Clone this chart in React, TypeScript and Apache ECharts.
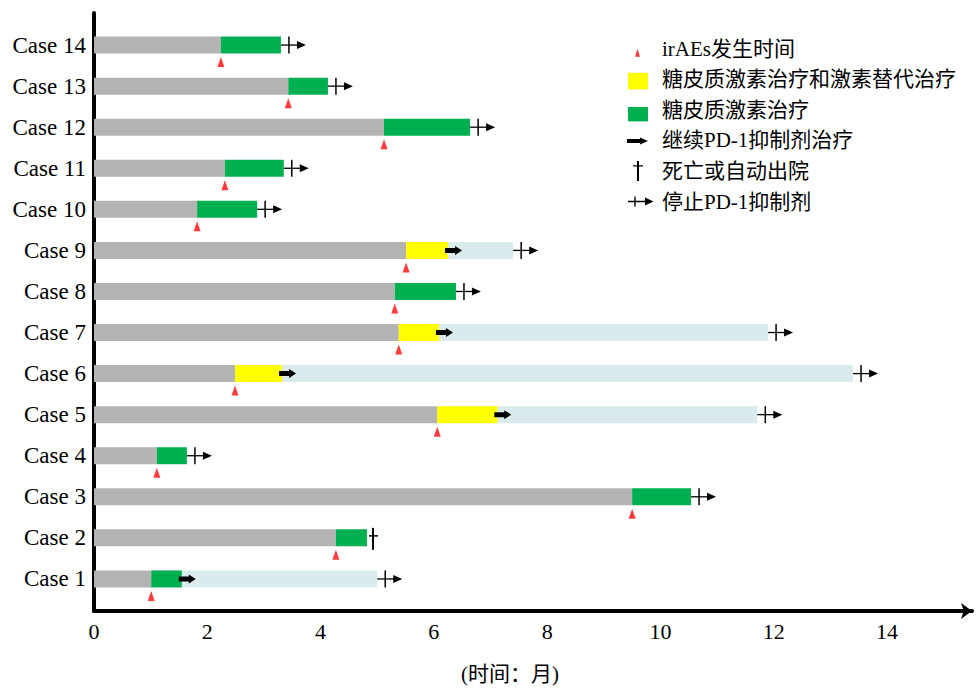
import React, { useEffect, useRef } from 'react';
import * as echarts from 'echarts';

// ---------- data (months) ----------
const caseNumbers = [1, 2, 3, 4, 5, 6, 7, 8, 9, 10, 11, 12, 13, 14];
const irAETime = [1.01, 4.27, 9.5, 1.11, 6.06, 2.49, 5.38, 5.31, 5.51, 1.82, 2.31, 5.12, 3.43, 2.24];
const treatmentEnd = [1.55, 4.82, 10.54, 1.64, 7.12, 3.32, 6.09, 6.39, 6.25, 2.88, 3.35, 6.64, 4.13, 3.3];
// 'S' = 糖皮质激素治疗和激素替代治疗 (yellow), 'G' = 糖皮质激素治疗 (green)
const treatmentType = ['G', 'G', 'G', 'G', 'S', 'S', 'S', 'G', 'S', 'G', 'G', 'G', 'G', 'G'];
const continuedUntil: (number | null)[] = [5.0, null, null, null, 11.71, 13.4, 11.9, null, 7.4, null, null, null, null, null];
// 'stop' = 停止PD-1抑制剂, 'death' = 死亡或自动出院
const outcome = ['stop', 'death', 'stop', 'stop', 'stop', 'stop', 'stop', 'stop', 'stop', 'stop', 'stop', 'stop', 'stop', 'stop'];
const xTicks = [0, 2, 4, 6, 8, 10, 12, 14];

const legendNames = [
  'irAEs发生时间',
  '糖皮质激素治疗和激素替代治疗',
  '糖皮质激素治疗',
  '继续PD-1抑制剂治疗',
  '死亡或自动出院',
  '停止PD-1抑制剂',
];

const FONT = '"Liberation Serif", "Times New Roman", "Noto Sans CJK SC", serif';
const C_GREY = '#b3b3b3';
const C_GREEN = '#00b050';
const C_YELLOW = '#ffff00';
const C_BLUE = '#daebee';
const C_RED = '#ff3b3b';
const BAR_H = 17;

const rectItem = (color: string) => (_p: any, api: any) => {
  const s = api.coord([api.value(0), api.value(2)]);
  const e = api.coord([api.value(1), api.value(2)]);
  return {
    type: 'rect',
    shape: { x: s[0], y: s[1] - BAR_H / 2, width: e[0] - s[0], height: BAR_H },
    style: { fill: color },
  };
};

const contArrow = (_p: any, api: any) => {
  const p = api.coord([api.value(0), api.value(1)]);
  const x = p[0] - 3;
  const y = p[1];
  return {
    type: 'polygon',
    shape: {
      points: [
        [x, y - 2.5], [x + 10, y - 2.5], [x + 10, y - 4.5], [x + 17, y],
        [x + 10, y + 4.5], [x + 10, y + 2.5], [x, y + 2.5],
      ],
    },
    style: { fill: '#000' },
  };
};

const stopMark = (_p: any, api: any) => {
  const p = api.coord([api.value(0), api.value(1)]);
  const x = p[0];
  const y = p[1];
  return {
    type: 'group',
    children: [
      { type: 'line', shape: { x1: x, y1: y, x2: x + 18, y2: y }, style: { stroke: '#000', lineWidth: 1.3 } },
      { type: 'line', shape: { x1: x + 8, y1: y - 8.5, x2: x + 8, y2: y + 8.5 }, style: { stroke: '#000', lineWidth: 1.5 } },
      { type: 'polygon', shape: { points: [[x + 16, y - 4], [x + 25, y], [x + 16, y + 4]] }, style: { fill: '#000' } },
    ],
  };
};

const deathMark = (_p: any, api: any) => {
  const p = api.coord([api.value(0), api.value(1)]);
  const x = p[0];
  const y = p[1];
  return {
    type: 'group',
    children: [
      { type: 'line', shape: { x1: x + 6, y1: y - 10, x2: x + 6, y2: y + 12 }, style: { stroke: '#000', lineWidth: 2 } },
      { type: 'line', shape: { x1: x + 2, y1: y - 2, x2: x + 11, y2: y - 2 }, style: { stroke: '#000', lineWidth: 1.5 } },
    ],
  };
};

// legend icons in a 30x24 box (corner moves fix the box)
const BOX = 'M0 0M30 24';
const ICONS = [
  `path://${BOX}M8 20.3L13 20.3L10.5 12.3Z`,
  `path://${BOX}M1 5.7L21 5.7L21 22.3L1 22.3Z`,
  `path://${BOX}M1 9.3L21 9.3L21 23.7L1 23.7Z`,
  `path://${BOX}M0 10.8L13 10.8L13 9.3L21 12.8L13 16.3L13 14.8L0 14.8Z`,
  `path://${BOX}M10 2L12 2L12 22L10 22ZM6 6.3L16 6.3L16 7.7L6 7.7Z`,
  `path://${BOX}M1 11.3L19 11.3L19 12.7L1 12.7ZM7.3 7L8.7 7L8.7 17L7.3 17ZM18 8L26.5 12L18 16Z`,
];
const ICON_COLORS = [C_RED, C_YELLOW, C_GREEN, '#000', '#000', '#000'];

export default function App() {
  const ref = useRef<HTMLDivElement>(null);
  useEffect(() => {
    const chart = echarts.init(ref.current!, null, { renderer: 'svg' });

    const idx = caseNumbers.map((_, i) => i);
    const greyData = idx.map((i) => [0, irAETime[i], caseNumbers[i]]);
    const yellowData = idx.filter((i) => treatmentType[i] === 'S').map((i) => [irAETime[i], treatmentEnd[i], caseNumbers[i]]);
    const greenData = idx.filter((i) => treatmentType[i] === 'G').map((i) => [irAETime[i], treatmentEnd[i], caseNumbers[i]]);
    const blueData = idx.filter((i) => continuedUntil[i] != null).map((i) => [treatmentEnd[i], continuedUntil[i] as number, caseNumbers[i]]);
    const arrowData = idx.filter((i) => continuedUntil[i] != null).map((i) => [treatmentEnd[i], caseNumbers[i]]);
    const deathData = idx.filter((i) => outcome[i] === 'death').map((i) => [treatmentEnd[i], caseNumbers[i]]);
    const stopData = idx
      .filter((i) => outcome[i] === 'stop')
      .map((i) => [continuedUntil[i] != null ? (continuedUntil[i] as number) : treatmentEnd[i], caseNumbers[i]]);
    const triData = idx.map((i) => [irAETime[i], caseNumbers[i]]);

    const option: any = {
      animation: false,
      backgroundColor: '#fff',
      textStyle: { fontFamily: FONT },
      grid: [
        { left: 94, right: 6, top: 4, bottom: 69 },
        { left: 94, right: 6, top: 13, bottom: 72 },
      ],
      legend: {
        orient: 'vertical',
        left: 622,
        top: 31.5,
        itemWidth: 30,
        itemHeight: 24,
        itemGap: 6.6,
        selectedMode: false,
        textStyle: { fontSize: 21, color: '#000', fontFamily: FONT },
        data: legendNames.map((n, i) => ({
          name: n,
          icon: ICONS[i],
          itemStyle: { color: ICON_COLORS[i], borderWidth: 0, opacity: 1 },
        })),
      },
      xAxis: [
        { gridIndex: 0, type: 'value', min: 0, max: 15.5, show: false },
        {
          gridIndex: 1,
          type: 'value',
          min: 0,
          max: 15.5,
          interval: 2,
          axisLine: {
            show: true,
            lineStyle: { color: '#000', width: 4 },
            symbol: ['none', 'arrow'],
            symbolSize: [12, 11],
          },
          axisTick: { show: false },
          splitLine: { show: false },
          axisLabel: {
            color: '#000',
            fontSize: 22,
            fontFamily: FONT,
            margin: 9,
            showMaxLabel: false,
            formatter: (v: number) => (xTicks.indexOf(v) >= 0 ? String(v) : ''),
          },
          name: '(时间：月)',
          nameLocation: 'middle',
          nameGap: 52,
          nameTextStyle: { color: '#000', fontSize: 21, fontFamily: FONT, padding: [0, 46, 0, 0] },
        },
      ],
      yAxis: [
        {
          gridIndex: 0,
          type: 'value',
          min: 0,
          max: 15,
          interval: 1,
          axisLine: { show: false },
          axisTick: { show: false },
          splitLine: { show: false },
          axisLabel: {
            color: '#000',
            fontSize: 23,
            fontFamily: FONT,
            margin: 8,
            formatter: (v: number) => (v >= 1 && v <= 14 ? 'Case ' + v : ''),
          },
        },
        {
          gridIndex: 1,
          type: 'value',
          min: 0,
          max: 1,
          axisLine: { show: true, lineStyle: { color: '#000', width: 4 } },
          axisTick: { show: false },
          axisLabel: { show: false },
          splitLine: { show: false },
        },
      ],
      series: [
        { name: 'grey', type: 'custom', xAxisIndex: 0, yAxisIndex: 0, renderItem: rectItem(C_GREY), data: greyData, itemStyle: { color: C_GREY } },
        { name: 'continued', type: 'custom', xAxisIndex: 0, yAxisIndex: 0, renderItem: rectItem(C_BLUE), data: blueData, itemStyle: { color: C_BLUE } },
        { name: legendNames[1], type: 'custom', xAxisIndex: 0, yAxisIndex: 0, renderItem: rectItem(C_YELLOW), data: yellowData, itemStyle: { color: C_YELLOW } },
        { name: legendNames[2], type: 'custom', xAxisIndex: 0, yAxisIndex: 0, renderItem: rectItem(C_GREEN), data: greenData, itemStyle: { color: C_GREEN } },
        { name: legendNames[3], type: 'custom', xAxisIndex: 0, yAxisIndex: 0, renderItem: contArrow, data: arrowData, itemStyle: { color: '#000' } },
        { name: legendNames[4], type: 'custom', xAxisIndex: 0, yAxisIndex: 0, renderItem: deathMark, data: deathData, itemStyle: { color: '#000' } },
        { name: legendNames[5], type: 'custom', xAxisIndex: 0, yAxisIndex: 0, renderItem: stopMark, data: stopData, itemStyle: { color: '#000' } },
        {
          name: legendNames[0],
          type: 'scatter',
          xAxisIndex: 0,
          yAxisIndex: 0,
          symbol: 'triangle',
          symbolSize: [7, 10],
          symbolOffset: [0, 17],
          itemStyle: { color: C_RED, opacity: 1 },
          data: triData,
        },
      ],
    };
    chart.setOption(option);
    return () => chart.dispose();
  }, []);
  return <div ref={ref} style={{ position: 'fixed', left: 0, top: 0, width: 978, height: 689 }} />;
}
